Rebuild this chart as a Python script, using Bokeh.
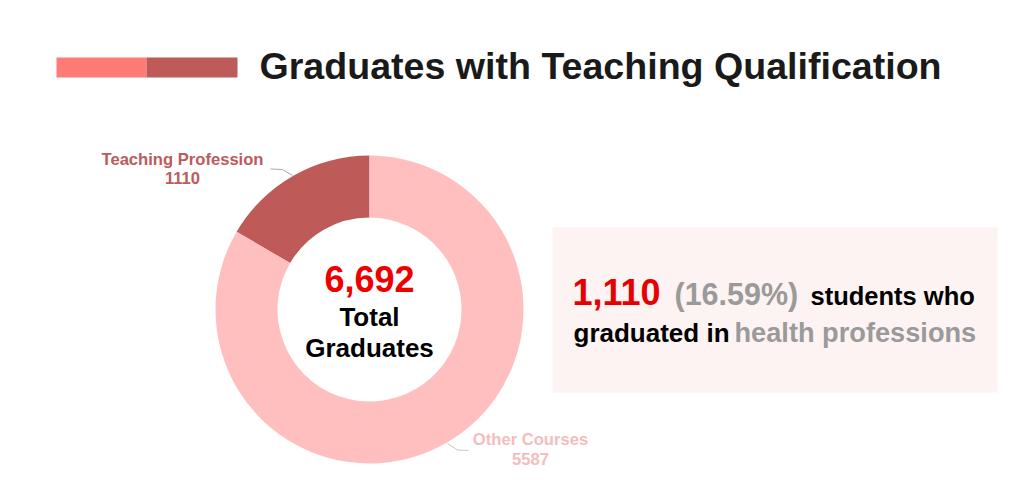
from bokeh.plotting import figure
from bokeh.models import Range1d
from bokeh.core.properties import value
from bokeh.embed import file_html
from bokeh.resources import INLINE
import math

# ---- data ----
categories = ["Teaching Profession", "Other Courses"]
counts = [1110, 5587]
slice_colors = ["#BE5B59", "#FFBFBE"]
label_colors = ["#BC5B5B", "#F4BDBD"]
total_label = "6,692"
highlight_count = "1,110"
highlight_pct = "(16.59%)"
title_text = "Graduates with Teaching Qualification"

W, H = 1008, 487
FONT = value("Liberation Sans")

p = figure(width=W, height=H, output_backend="svg", toolbar_location=None,
           x_range=Range1d(0, W), y_range=Range1d(503 - H, 503),
           x_axis_location=None, y_axis_location=None, min_border=0,
           outline_line_color=None, tools="")
p.grid.visible = False
p.background_fill_color = "white"
p.border_fill_color = "white"


def Y(py):
    return 503 - py


def TY(py, fs):
    # baseline correction for svg text placement
    return 503 - py + 0.38 * fs


def txt(x, py, s, fs, color, align="left"):
    p.text(x=[x], y=[TY(py, fs)], text=[s], text_font=FONT, text_font_style="bold",
           text_font_size=f"{fs}px", text_color=color, text_align=align,
           text_baseline="alphabetic")


# title colour bars
p.quad(left=[56, 146], right=[146, 237], top=[Y(57), Y(57)], bottom=[Y(77), Y(77)],
       fill_color=["#FF7B75", "#BE5B59"], line_color=None)
txt(259, 80, title_text, 37.6, "#1A1A1A")

# donut
cx, cy = 369, Y(309)
total = sum(counts)
starts, ends = [], []
a = math.pi / 2
for c in counts:
    starts.append(a)
    a += 2 * math.pi * c / total
    ends.append(a)
p.annular_wedge(x=[cx] * len(counts), y=[cy] * len(counts), inner_radius=92, outer_radius=154,
                start_angle=starts, end_angle=ends, fill_color=slice_colors, line_color=None)

# center text
txt(cx, 292, total_label, 36, "#EE0000", "center")
txt(cx, 326, "Total", 26, "#000000", "center")
txt(cx, 357, "Graduates", 26, "#000000", "center")

# slice labels
txt(182, 165, categories[0], 16.6, label_colors[0], "center")
txt(182, 184, str(counts[0]), 16.6, label_colors[0], "center")
txt(530, 445, categories[1], 16.6, label_colors[1], "center")
txt(530, 465, str(counts[1]), 16.6, label_colors[1], "center")
p.line(x=[270, 282, 292], y=[Y(168.5), Y(169), Y(175)], line_color="#A8A8A8", line_width=1)
p.line(x=[447, 457, 468], y=[Y(443), Y(449.5), Y(450)], line_color="#C8C8C8", line_width=1)

# right info box
p.quad(left=[552], right=[997], top=[Y(227)], bottom=[Y(392)], fill_color="#FDF3F2", line_color=None)
txt(572, 305, highlight_count, 36, "#E60000")
txt(674, 305, highlight_pct, 30.5, "#9A9A9A")
txt(810, 305, "students who", 25.5, "#000000")
txt(573, 342, "graduated in", 26, "#000000")
txt(734, 342, "health professions", 27.2, "#9A9A9A")

open("out.html", "w").write(file_html(p, INLINE))
